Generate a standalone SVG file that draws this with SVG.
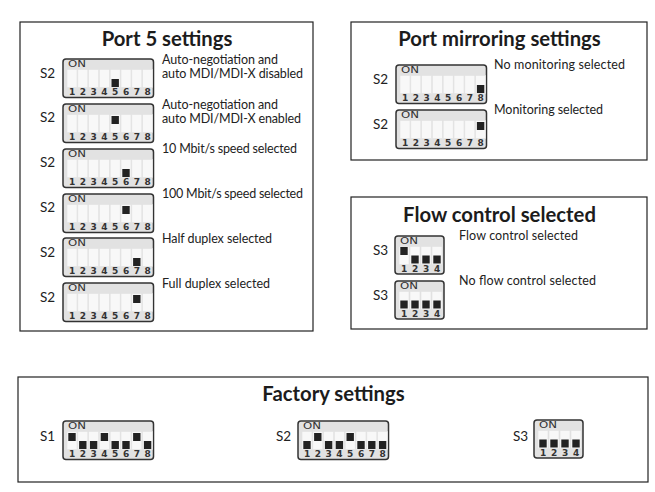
<svg xmlns="http://www.w3.org/2000/svg" width="655" height="492" viewBox="0 0 655 492">
<style>
text{font-family:"Lato","Liberation Sans",sans-serif;fill:#222}
.panel{fill:#fff;stroke:#222;stroke-width:1.2}
.title{font-size:20.3px;font-weight:700;text-anchor:middle;fill:#1c1c1c}
.lab{font-size:12.5px}
.sw{font-size:13.5px}
.on{font-size:8.5px;fill:#333;font-family:"DejaVu Sans",sans-serif}
.num8{font-size:9px;font-weight:700;fill:#333;word-spacing:1.41px;font-family:"DejaVu Sans",sans-serif}
.num4{font-size:9px;font-weight:700;fill:#333;word-spacing:1.61px;font-family:"DejaVu Sans",sans-serif}
.body{fill:#e2e2e2;stroke:#333;stroke-width:1.5}
.slot{fill:#f8f8f8;stroke:#e2e2e2;stroke-width:.6}
.k{fill:#222;width:7.4px;height:8px}
</style>
<defs>
<g id="dip8">
<rect class="body" width="90.5" height="38.5" rx="3"/>
<rect class="slot" x="4" y="10.5" width="10" height="18"/><rect class="slot" x="14.8" y="10.5" width="10" height="18"/><rect class="slot" x="25.6" y="10.5" width="10" height="18"/><rect class="slot" x="36.4" y="10.5" width="10" height="18"/><rect class="slot" x="47.2" y="10.5" width="10" height="18"/><rect class="slot" x="58" y="10.5" width="10" height="18"/><rect class="slot" x="68.8" y="10.5" width="10" height="18"/><rect class="slot" x="79.6" y="10.5" width="10" height="18"/>
</g>
<g id="dip4">
<rect class="body" width="49" height="38" rx="3"/>
<rect class="slot" x="4" y="10.5" width="10" height="18"/><rect class="slot" x="15" y="10.5" width="10" height="18"/><rect class="slot" x="26" y="10.5" width="10" height="18"/><rect class="slot" x="37" y="10.5" width="10" height="18"/>
</g>
</defs>
<g id="panels">
<rect class="panel" x="20" y="22" width="293" height="309"/>
<rect class="panel" x="351" y="22" width="296" height="138"/>
<rect class="panel" x="351" y="197" width="296" height="132"/>
<rect class="panel" x="18" y="377" width="630" height="105"/>
</g>
<g id="titles">
<text class="title" x="167" y="46">Port 5 settings</text>
<text class="title" x="499.500" y="46">Port mirroring settings</text>
<text class="title" x="499.500" y="222">Flow control selected</text>
<text class="title" x="333.500" y="401">Factory settings</text>
</g>
<g id="labels">
<text class="lab" x="162" y="64" textLength="116">Auto-negotiation and</text>
<text class="lab" x="162" y="78" textLength="141">auto MDI/MDI-X disabled</text>
<text class="lab" x="162" y="109" textLength="116">Auto-negotiation and</text>
<text class="lab" x="162" y="123" textLength="139">auto MDI/MDI-X enabled</text>
<text class="lab" x="162" y="153" textLength="135">10 Mbit/s speed selected</text>
<text class="lab" x="162" y="198" textLength="141">100 Mbit/s speed selected</text>
<text class="lab" x="162" y="243" textLength="110">Half duplex selected</text>
<text class="lab" x="162" y="288" textLength="108">Full duplex selected</text>
<text class="lab" x="494" y="69" textLength="131">No monitoring selected</text>
<text class="lab" x="494" y="114" textLength="109">Monitoring selected</text>
<text class="lab" x="459" y="240" textLength="119">Flow control selected</text>
<text class="lab" x="459" y="285" textLength="137">No flow control selected</text>
</g>
<g id="sw1"><text class="sw" x="40" y="78">S2</text><g transform="translate(63,59)"><use href="#dip8"/><text class="on" x="5" y="8" textLength="18" lengthAdjust="spacingAndGlyphs">ON</text><rect class="k" x="48.5" y="20"/><text class="num8" x="5.9" y="35.500">1 2 3 4 5 6 7 8</text></g></g>
<g id="sw2"><text class="sw" x="40" y="122">S2</text><g transform="translate(63,104)"><use href="#dip8"/><text class="on" x="5" y="8" textLength="18" lengthAdjust="spacingAndGlyphs">ON</text><rect class="k" x="48.5" y="12"/><text class="num8" x="5.9" y="35.500">1 2 3 4 5 6 7 8</text></g></g>
<g id="sw3"><text class="sw" x="40" y="167">S2</text><g transform="translate(63,149)"><use href="#dip8"/><text class="on" x="5" y="8" textLength="18" lengthAdjust="spacingAndGlyphs">ON</text><rect class="k" x="59.3" y="20"/><text class="num8" x="5.9" y="35.500">1 2 3 4 5 6 7 8</text></g></g>
<g id="sw4"><text class="sw" x="40" y="212">S2</text><g transform="translate(63,194)"><use href="#dip8"/><text class="on" x="5" y="8" textLength="18" lengthAdjust="spacingAndGlyphs">ON</text><rect class="k" x="59.3" y="12"/><text class="num8" x="5.9" y="35.500">1 2 3 4 5 6 7 8</text></g></g>
<g id="sw5"><text class="sw" x="40" y="257">S2</text><g transform="translate(63,238)"><use href="#dip8"/><text class="on" x="5" y="8" textLength="18" lengthAdjust="spacingAndGlyphs">ON</text><rect class="k" x="70.1" y="20"/><text class="num8" x="5.9" y="35.500">1 2 3 4 5 6 7 8</text></g></g>
<g id="sw6"><text class="sw" x="40" y="302">S2</text><g transform="translate(63,283)"><use href="#dip8"/><text class="on" x="5" y="8" textLength="18" lengthAdjust="spacingAndGlyphs">ON</text><rect class="k" x="70.1" y="12"/><text class="num8" x="5.9" y="35.500">1 2 3 4 5 6 7 8</text></g></g>
<g id="sw7"><text class="sw" x="373" y="84">S2</text><g transform="translate(396,65)"><use href="#dip8"/><text class="on" x="5" y="8" textLength="18" lengthAdjust="spacingAndGlyphs">ON</text><rect class="k" x="80.9" y="20"/><text class="num8" x="5.9" y="35.500">1 2 3 4 5 6 7 8</text></g></g>
<g id="sw8"><text class="sw" x="373" y="129">S2</text><g transform="translate(396,110)"><use href="#dip8"/><text class="on" x="5" y="8" textLength="18" lengthAdjust="spacingAndGlyphs">ON</text><rect class="k" x="80.9" y="12"/><text class="num8" x="5.9" y="35.500">1 2 3 4 5 6 7 8</text></g></g>
<g id="sw9"><text class="sw" x="373" y="255">S3</text><g transform="translate(395,236)"><use href="#dip4"/><text class="on" x="5" y="8" textLength="18" lengthAdjust="spacingAndGlyphs">ON</text><rect class="k" x="5.3" y="11"/><rect class="k" x="16.3" y="19.5"/><rect class="k" x="27.3" y="19.5"/><rect class="k" x="38.3" y="19.5"/><text class="num4" x="6" y="35.500">1 2 3 4</text></g></g>
<g id="sw10"><text class="sw" x="373" y="300">S3</text><g transform="translate(395,281)"><use href="#dip4"/><text class="on" x="5" y="8" textLength="18" lengthAdjust="spacingAndGlyphs">ON</text><rect class="k" x="5.3" y="19.5"/><rect class="k" x="16.3" y="19.5"/><rect class="k" x="27.3" y="19.5"/><rect class="k" x="38.3" y="19.5"/><text class="num4" x="6" y="35.500">1 2 3 4</text></g></g>
<g id="sw11"><text class="sw" x="40" y="441">S1</text><g transform="translate(63,421)"><use href="#dip8"/><text class="on" x="5" y="8" textLength="18" lengthAdjust="spacingAndGlyphs">ON</text><rect class="k" x="5.3" y="12"/><rect class="k" x="16.1" y="20"/><rect class="k" x="26.9" y="20"/><rect class="k" x="37.7" y="12"/><rect class="k" x="48.5" y="20"/><rect class="k" x="59.3" y="20"/><rect class="k" x="70.1" y="12"/><rect class="k" x="80.9" y="20"/><text class="num8" x="5.9" y="35.500">1 2 3 4 5 6 7 8</text></g></g>
<g id="sw12"><text class="sw" x="276" y="441">S2</text><g transform="translate(298,421)"><use href="#dip8"/><text class="on" x="5" y="8" textLength="18" lengthAdjust="spacingAndGlyphs">ON</text><rect class="k" x="5.3" y="20"/><rect class="k" x="16.1" y="12"/><rect class="k" x="26.9" y="20"/><rect class="k" x="37.7" y="20"/><rect class="k" x="48.5" y="12"/><rect class="k" x="59.3" y="20"/><rect class="k" x="70.1" y="20"/><rect class="k" x="80.9" y="20"/><text class="num8" x="5.9" y="35.500">1 2 3 4 5 6 7 8</text></g></g>
<g id="sw13"><text class="sw" x="513" y="441">S3</text><g transform="translate(534,420)"><use href="#dip4"/><text class="on" x="5" y="8" textLength="18" lengthAdjust="spacingAndGlyphs">ON</text><rect class="k" x="5.3" y="19.5"/><rect class="k" x="16.3" y="19.5"/><rect class="k" x="27.3" y="19.5"/><rect class="k" x="38.3" y="19.5"/><text class="num4" x="6" y="35.500">1 2 3 4</text></g></g>
</svg>
